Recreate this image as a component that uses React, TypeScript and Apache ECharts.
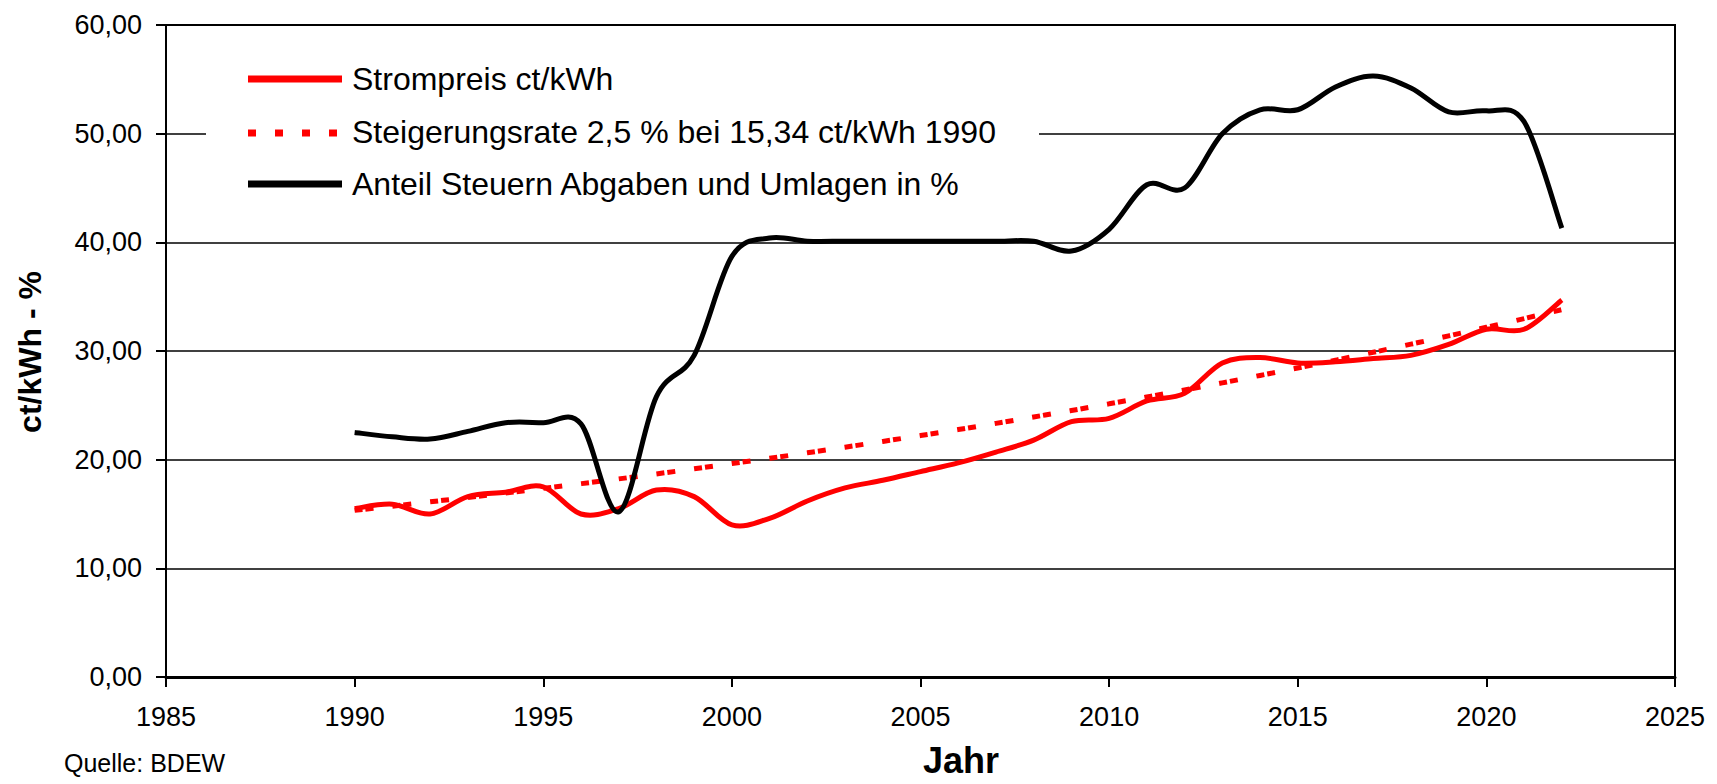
import React, { useEffect, useRef } from "react";
import * as echarts from "echarts";

const years = [1990,1991,1992,1993,1994,1995,1996,1997,1998,1999,2000,2001,2002,2003,2004,2005,2006,2007,2008,2009,2010,2011,2012,2013,2014,2015,2016,2017,2018,2019,2020,2021,2022];
const strompreis = [15.5,15.9,15.0,16.6,17.0,17.5,15.0,15.5,17.2,16.6,14.0,14.6,16.2,17.4,18.1,18.9,19.7,20.7,21.8,23.5,23.8,25.4,26.1,28.9,29.4,28.9,29.0,29.3,29.6,30.6,32.0,32.0,34.7];
const steigerung = [15.34,15.72,16.12,16.52,16.93,17.36,17.79,18.23,18.69,19.16,19.64,20.13,20.63,21.15,21.68,22.22,22.77,23.34,23.93,24.52,25.14,25.77,26.41,27.07,27.75,28.44,29.15,29.88,30.63,31.39,32.18,32.98,33.81];
const anteil = [22.5,22.1,21.9,22.6,23.4,23.4,23.3,15.2,25.8,29.6,38.7,40.4,40.1,40.1,40.1,40.1,40.1,40.1,40.1,39.2,41.2,45.3,45.0,50.0,52.2,52.2,54.3,55.3,54.2,52.0,52.1,51.1,41.3];

const seriesNames = [
  "Strompreis ct/kWh",
  "Steigerungsrate 2,5 % bei 15,34 ct/kWh 1990",
  "Anteil Steuern Abgaben und Umlagen in %",
];
const yAxisTitle = "ct/kWh - %";
const xAxisTitle = "Jahr";
const sourceNote = "Quelle: BDEW";

const FONT = "'Liberation Sans', Arial, sans-serif";

function smoothSeries(name: string, vals: number[], color: string, dash: number[] | null, z: number) {
  return {
    name,
    type: "custom",
    z,
    data: years.map((y, i) => [y, vals[i]]),
    encode: { x: 0, y: 1 },
    renderItem: (params: any, api: any) => {
      if (params.dataIndex !== 0) return null;
      const pts = years.map((y, i) => api.coord([y, vals[i]]));
      const n = pts.length;
      let d = `M${pts[0][0]},${pts[0][1]}`;
      for (let i = 0; i < n - 1; i++) {
        const p0 = pts[Math.max(0, i - 1)];
        const p1 = pts[i];
        const p2 = pts[i + 1];
        const p3 = pts[Math.min(n - 1, i + 2)];
        const c1x = p1[0] + (p2[0] - p0[0]) / 6;
        const c1y = p1[1] + (p2[1] - p0[1]) / 6;
        const c2x = p2[0] - (p3[0] - p1[0]) / 6;
        const c2y = p2[1] - (p3[1] - p1[1]) / 6;
        d += ` C${c1x},${c1y} ${c2x},${c2y} ${p2[0]},${p2[1]}`;
      }
      return {
        type: "path",
        silent: true,
        shape: { pathData: d },
        style: {
          fill: "none",
          stroke: color,
          lineWidth: 5,
          lineDash: dash || undefined,
          lineJoin: "round",
          lineCap: "butt",
        },
      };
    },
  };
}

export default function App() {
  const ref = useRef<HTMLDivElement>(null);
  useEffect(() => {
    document.body.style.margin = "0";
    const chart = echarts.init(ref.current!, null, { renderer: "svg" });
    const L = { left: 166, top: 25, right: 1675, bottom: 677 };
    chart.setOption({
      animation: false,
      backgroundColor: "#ffffff",
      grid: {
        left: L.left,
        top: L.top,
        right: 1717 - L.right,
        bottom: 784 - L.bottom,
        show: true,
        borderColor: "#000",
        borderWidth: 2,
        backgroundColor: "transparent",
      },
      xAxis: {
        type: "value",
        min: 1985,
        max: 2025,
        interval: 5,
        axisLine: { show: true, lineStyle: { color: "#000", width: 3 } },
        axisTick: { show: true, inside: false, length: 10, lineStyle: { color: "#000", width: 2 } },
        axisLabel: { color: "#000", fontFamily: FONT, fontSize: 27, margin: 26, formatter: (v: number) => String(v) },
        splitLine: { show: false },
      },
      yAxis: {
        type: "value",
        min: 0,
        max: 60,
        interval: 10,
        axisLine: { show: true, lineStyle: { color: "#000", width: 2 } },
        axisTick: { show: true, inside: false, length: 10, lineStyle: { color: "#000", width: 2 } },
        axisLabel: {
          color: "#000",
          fontFamily: FONT,
          fontSize: 27,
          margin: 24,
          formatter: (v: number) => v.toFixed(2).replace(".", ","),
        },
        splitLine: { show: true, lineStyle: { color: "#000", width: 1.5 } },
      },
      series: [
        smoothSeries(seriesNames[0], strompreis, "#ff0000", null, 2),
        smoothSeries(seriesNames[1], steigerung, "#ff0000", [8, 3, 8, 19], 3),
        smoothSeries(seriesNames[2], anteil, "#000000", null, 4),
      ],
      graphic: [
        { type: "rect", z: 50, shape: { x: 206, y: 45, width: 833, height: 172 }, style: { fill: "#fff" } },
        { type: "line", z: 51, shape: { x1: 248, y1: 79, x2: 342, y2: 79 }, style: { stroke: "#ff0000", lineWidth: 7 } },
        { type: "line", z: 51, shape: { x1: 248, y1: 133, x2: 340, y2: 133 }, style: { stroke: "#ff0000", lineWidth: 7, lineDash: [8, 19] } },
        { type: "line", z: 51, shape: { x1: 248, y1: 184, x2: 342, y2: 184 }, style: { stroke: "#000", lineWidth: 7 } },
        { type: "text", z: 51, x: 352, y: 79, style: { text: seriesNames[0], font: `32px ${FONT}`, fill: "#000", verticalAlign: "middle" } },
        { type: "text", z: 51, x: 352, y: 132, style: { text: seriesNames[1], font: `32px ${FONT}`, fill: "#000", verticalAlign: "middle" } },
        { type: "text", z: 51, x: 352, y: 184, style: { text: seriesNames[2], font: `32px ${FONT}`, fill: "#000", verticalAlign: "middle" } },
        { type: "text", x: 30, y: 352, rotation: Math.PI / 2, style: { text: yAxisTitle, font: `bold 32px ${FONT}`, fill: "#000", align: "center", verticalAlign: "middle" } },
        { type: "text", x: 961, y: 760, style: { text: xAxisTitle, font: `bold 36px ${FONT}`, fill: "#000", align: "center", verticalAlign: "middle" } },
        { type: "text", x: 64, y: 763, style: { text: sourceNote, font: `25px ${FONT}`, fill: "#000", align: "left", verticalAlign: "middle" } },
      ],
    });
    return () => chart.dispose();
  }, []);
  return <div ref={ref} style={{ position: "fixed", left: 0, top: 0, width: 1717, height: 784 }} />;
}
